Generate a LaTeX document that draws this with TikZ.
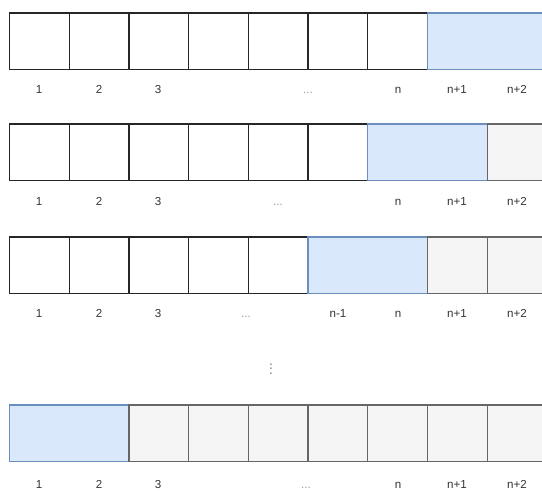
\documentclass[tikz,border=0pt]{standalone}
\usepackage{fontspec}
\setmainfont{Liberation Sans}
\definecolor{bluefill}{HTML}{DAE8FC}
\definecolor{bluedraw}{HTML}{6C8EBF}
\definecolor{grayfill}{HTML}{F5F5F5}
\definecolor{graydraw}{HTML}{666666}
\definecolor{txt}{HTML}{333333}
\definecolor{dotgray}{HTML}{999999}
\begin{document}
\begin{tikzpicture}[x=0.75pt,y=-0.75pt,
  whitecell/.style={draw=black!85, fill=white, line width=0.9pt, minimum width=44.775pt,
    minimum height=42.3pt, inner sep=0pt, outer sep=0pt, anchor=north west},
  bluecell/.style={whitecell, draw=bluedraw, fill=bluefill, minimum width=89.55pt},
  graycell/.style={whitecell, draw=graydraw, fill=grayfill},
  lbl/.style={font=\fontsize{8.7}{10}\selectfont, text=txt, anchor=base, inner sep=0pt},
  dotlbl/.style={lbl, text=dotgray}]
\useasboundingbox (0,0) rectangle (542,491);
\clip (0,0) rectangle (542,491);
% row 1
\foreach \k in {0,...,6} {\node[whitecell] (a\k) at ({9.5+59.7*\k},13) {};}
\node[bluecell] (ab) at ({9.5+59.7*7},13) {};
% row 2
\foreach \k in {0,...,5} {\node[whitecell] (b\k) at ({9.5+59.7*\k},124) {};}
\node[bluecell] (bb) at ({9.5+59.7*6},124) {};
\node[graycell] (b8) at ({9.5+59.7*8},124) {};
% row 3
\foreach \k in {0,...,4} {\node[whitecell] (c\k) at ({9.5+59.7*\k},237) {};}
\node[bluecell] (cb) at ({9.5+59.7*5},237) {};
\foreach \k in {7,8} {\node[graycell] (c\k) at ({9.5+59.7*\k},237) {};}
% row 4
\node[bluecell] (db) at (9.5,405) {};
\foreach \k in {2,...,8} {\node[graycell] (d\k) at ({9.5+59.7*\k},405) {};}
% labels row 1
\node[lbl] (la1) at (39,94) {1};
\node[lbl] (la2) at (99,94) {2};
\node[lbl] (la3) at (158,94) {3};
\node[dotlbl] (lad) at (308,94) {...};
\node[lbl] (lan) at (398,94) {n};
\node[lbl] (lan1) at (457,94) {n+1};
\node[lbl] (lan2) at (517,94) {n+2};
% labels row 2
\node[lbl] (lb1) at (39,206) {1};
\node[lbl] (lb2) at (99,206) {2};
\node[lbl] (lb3) at (158,206) {3};
\node[dotlbl] (lbd) at (278,206) {...};
\node[lbl] (lbn) at (398,206) {n};
\node[lbl] (lbn1) at (457,206) {n+1};
\node[lbl] (lbn2) at (517,206) {n+2};
% labels row 3
\node[lbl] (lc1) at (39,318) {1};
\node[lbl] (lc2) at (99,318) {2};
\node[lbl] (lc3) at (158,318) {3};
\node[dotlbl] (lcd) at (246,318) {...};
\node[lbl] (lcm) at (338,318) {n-1};
\node[lbl] (lcn) at (398,318) {n};
\node[lbl] (lcn1) at (457,318) {n+1};
\node[lbl] (lcn2) at (517,318) {n+2};
% vertical dots
\node[dotlbl, anchor=center, rotate=-90, font=\fontsize{12}{14}\selectfont] (vd) at (271,369) {...};
% labels row 4
\node[lbl] (ld1) at (39,488) {1};
\node[lbl] (ld2) at (99,488) {2};
\node[lbl] (ld3) at (158,488) {3};
\node[dotlbl] (ldd) at (306,488) {...};
\node[lbl] (ldn) at (398,488) {n};
\node[lbl] (ldn1) at (457,488) {n+1};
\node[lbl] (ldn2) at (517,488) {n+2};
\end{tikzpicture}
\end{document}
